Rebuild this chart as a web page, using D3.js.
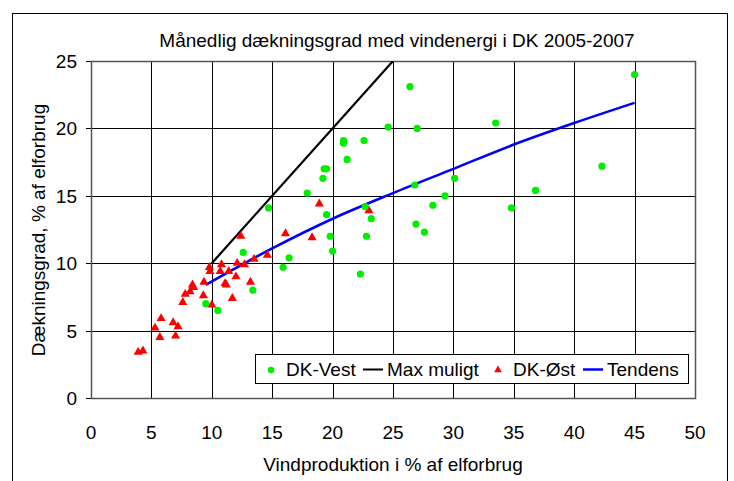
<!DOCTYPE html>
<html>
<head>
<meta charset="utf-8">
<script src="https://cdn.jsdelivr.net/npm/d3@7"></script>
<style>
  body { margin: 0; background: #fff; }
  text { font-family: "Liberation Sans", Arial, sans-serif; fill: #000; }
</style>
</head>
<body>
<svg id="chart" width="734" height="481"></svg>
<script>
// DK-Vest monthly points [wind production %, coverage %]
var vestX = [9.5, 10.5, 12.6, 13.4, 14.7, 15.9, 16.4, 17.9, 19.2, 19.3, 19.5, 19.5, 19.8, 20.0, 20.9, 20.9, 21.2, 22.3, 22.6, 22.7, 22.8, 23.2, 24.6, 26.4, 26.8, 26.9, 27.0, 27.6, 28.3, 29.3, 30.1, 33.5, 34.8, 36.8, 42.3, 45.0];
var vestY = [7.0, 6.5, 10.8, 8.0, 14.1, 9.7, 10.4, 15.2, 16.3, 17.0, 17.0, 13.6, 12.0, 10.9, 18.9, 19.1, 17.7, 9.2, 19.1, 14.2, 12.0, 13.3, 20.1, 23.1, 15.8, 12.9, 20.0, 12.3, 14.3, 15.0, 16.3, 20.4, 14.1, 15.4, 17.2, 24.0];

// DK-Øst monthly points
var oestX = [3.9, 4.3, 5.3, 5.8, 5.7, 6.8, 7.2, 7.0, 7.6, 7.8, 8.2, 8.4, 8.5, 9.3, 9.35, 10.0, 9.8, 9.85, 10.8, 10.7, 11.4, 12.0, 12.1, 12.7, 11.1, 11.2, 11.7, 13.2, 13.5, 14.6, 12.4, 16.1, 18.9, 18.3, 23.0];
var oestY = [3.4, 3.5, 5.2, 5.9, 4.5, 5.6, 5.3, 4.6, 7.1, 7.7, 7.9, 8.4, 8.2, 7.6, 8.6, 6.9, 9.7, 9.4, 9.9, 9.4, 9.4, 9.0, 10.0, 9.9, 8.5, 8.4, 7.4, 8.6, 10.3, 10.6, 12.0, 12.2, 14.4, 11.9, 13.9];

// "Max muligt" line
var maxX = [10, 25];
var maxY = [10, 25];

// "Tendens" curve
var trendX = [9.5, 15, 20, 25, 30, 35, 40, 45];
var trendY = [8.4, 11.1, 13.3, 15.2, 17.0, 18.8, 20.4, 21.9];

var xTicks = [0, 5, 10, 15, 20, 25, 30, 35, 40, 45, 50];
var yTicks = [0, 5, 10, 15, 20, 25];

var svg = d3.select("#chart");
var plotLeft = 91, plotRight = 695, plotTop = 61, plotBottom = 398;

// outer frame
svg.append("rect")
  .attr("x", 12.5).attr("y", 13.5)
  .attr("width", 715).attr("height", 500)
  .attr("fill", "#fff").attr("stroke", "#000").attr("stroke-width", 1);

var xScale = d3.scaleLinear().domain([0, 50]).range([plotLeft, plotRight]);
var yScale = d3.scaleLinear().domain([0, 25]).range([plotBottom, plotTop]);

// gridlines
svg.append("g").selectAll("line")
  .data(xTicks).enter().append("line")
  .attr("x1", function(d){ return Math.round(xScale(d)) + 0.5; })
  .attr("x2", function(d){ return Math.round(xScale(d)) + 0.5; })
  .attr("y1", plotTop).attr("y2", plotBottom)
  .attr("stroke", "#000").attr("stroke-width", 1);

svg.append("g").selectAll("line")
  .data(yTicks).enter().append("line")
  .attr("x1", plotLeft - 5).attr("x2", plotRight)
  .attr("y1", function(d){ return Math.round(yScale(d)) + 0.5; })
  .attr("y2", function(d){ return Math.round(yScale(d)) + 0.5; })
  .attr("stroke", "#000").attr("stroke-width", 1);

// plot border
svg.append("rect")
  .attr("x", plotLeft + 0.5).attr("y", plotTop + 0.5)
  .attr("width", plotRight - plotLeft).attr("height", plotBottom - plotTop)
  .attr("fill", "none").attr("stroke", "#555").attr("stroke-width", 1.5);

// tick labels
svg.append("g").selectAll("text")
  .data(yTicks).enter().append("text")
  .attr("x", plotLeft - 14)
  .attr("y", function(d){ return yScale(d) + 7; })
  .attr("text-anchor", "end")
  .attr("font-size", 19)
  .text(function(d){ return d; });

svg.append("g").selectAll("text")
  .data(xTicks).enter().append("text")
  .attr("x", function(d){ return xScale(d); })
  .attr("y", 439)
  .attr("text-anchor", "middle")
  .attr("font-size", 19)
  .text(function(d){ return d; });

// clip for lines
svg.append("clipPath").attr("id", "plotclip")
  .append("rect").attr("x", plotLeft).attr("y", plotTop)
  .attr("width", plotRight - plotLeft).attr("height", plotBottom - plotTop);

var line = d3.line()
  .x(function(d){ return xScale(d[0]); })
  .y(function(d){ return yScale(d[1]); });

svg.append("path")
  .datum(d3.zip(maxX, maxY))
  .attr("clip-path", "url(#plotclip)")
  .attr("d", line)
  .attr("fill", "none")
  .attr("stroke", "#000")
  .attr("stroke-width", 2.2);

svg.append("path")
  .datum(d3.zip(trendX, trendY))
  .attr("d", line.curve(d3.curveMonotoneX))
  .attr("fill", "none")
  .attr("stroke", "#0000ff")
  .attr("stroke-width", 2.6);

// DK-Øst triangles
var tri = d3.symbol().type(d3.symbolTriangle).size(36);
svg.append("g").selectAll("path")
  .data(d3.zip(oestX, oestY)).enter().append("path")
  .attr("d", tri)
  .attr("transform", function(d){ return "translate(" + xScale(d[0]) + "," + yScale(d[1]) + ")"; })
  .attr("fill", "#ff0000");

// DK-Vest dots
svg.append("g").selectAll("circle")
  .data(d3.zip(vestX, vestY)).enter().append("circle")
  .attr("cx", function(d){ return xScale(d[0]); })
  .attr("cy", function(d){ return yScale(d[1]); })
  .attr("r", 3.6)
  .attr("fill", "#00ee00");

// title and axis labels
svg.append("text")
  .attr("x", 397).attr("y", 47)
  .attr("text-anchor", "middle")
  .attr("font-size", 19)
  .text("Månedlig dækningsgrad med vindenergi i DK 2005-2007");

svg.append("text")
  .attr("x", 393).attr("y", 471)
  .attr("text-anchor", "middle")
  .attr("font-size", 19)
  .text("Vindproduktion i % af elforbrug");

svg.append("text")
  .attr("transform", "translate(45,230)rotate(-90)")
  .attr("text-anchor", "middle")
  .attr("font-size", 19)
  .text("Dækningsgrad, % af elforbrug");

// legend
var lg = svg.append("g");
lg.append("rect")
  .attr("x", 255.5).attr("y", 354.5)
  .attr("width", 433).attr("height", 29)
  .attr("fill", "#fff").attr("stroke", "#000").attr("stroke-width", 1);

lg.append("circle").attr("cx", 271).attr("cy", 370).attr("r", 3.2).attr("fill", "#00ee00");
lg.append("text").attr("x", 286).attr("y", 376).attr("font-size", 19).text("DK-Vest");

lg.append("line").attr("x1", 363).attr("x2", 383).attr("y1", 369.5).attr("y2", 369.5)
  .attr("stroke", "#000").attr("stroke-width", 2);
lg.append("text").attr("x", 387).attr("y", 376).attr("font-size", 19).text("Max muligt");

lg.append("path").attr("d", d3.symbol().type(d3.symbolTriangle).size(26))
  .attr("transform", "translate(498,370)").attr("fill", "#ff0000");
lg.append("text").attr("x", 513).attr("y", 376).attr("font-size", 19).text("DK-Øst");

lg.append("line").attr("x1", 583).attr("x2", 603).attr("y1", 369.5).attr("y2", 369.5)
  .attr("stroke", "#0000ff").attr("stroke-width", 2.5);
lg.append("text").attr("x", 607).attr("y", 376).attr("font-size", 19).text("Tendens");
</script>
</body>
</html>
